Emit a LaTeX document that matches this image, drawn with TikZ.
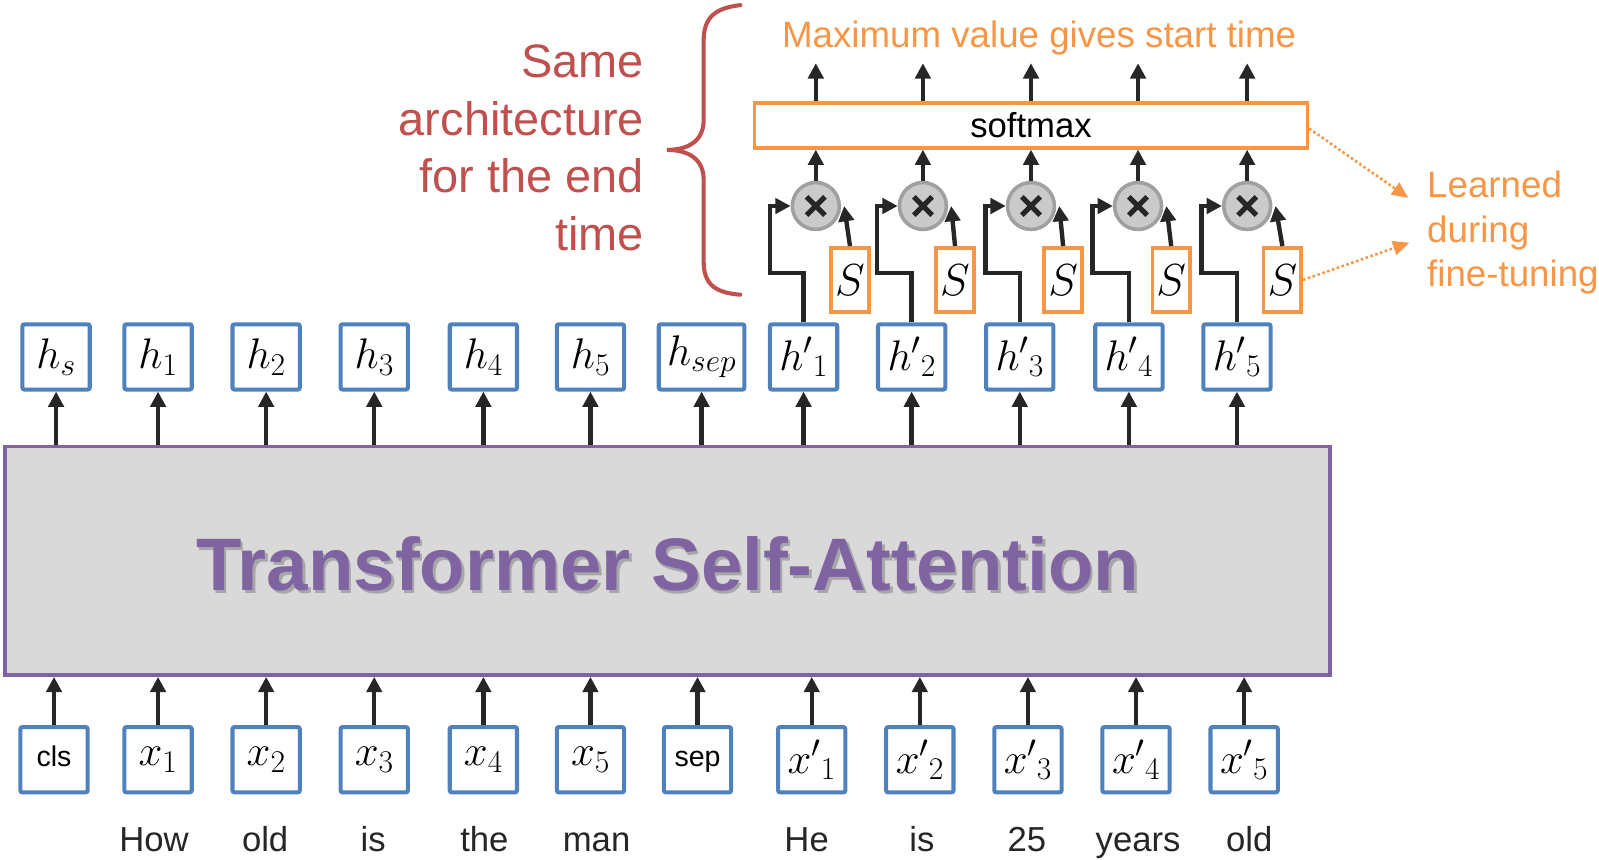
\RequirePackage{fix-cm}
\documentclass[tikz,border=0pt]{standalone}
\usepackage[no-math]{fontspec}
\setmainfont{Liberation Sans}
\usetikzlibrary{arrows.meta}
\DeclareMathSizes{42}{42}{31}{24}
\DeclareMathSizes{44}{44}{33}{24}

\definecolor{boxblue}{HTML}{4F81BD}
\definecolor{accorange}{HTML}{F79646}
\definecolor{accred}{HTML}{C0504D}
\definecolor{accpurple}{HTML}{8064A2}
\definecolor{panelgray}{HTML}{D9D9D9}
\definecolor{inkdark}{HTML}{262626}
\definecolor{multfill}{HTML}{CACACA}
\definecolor{multrim}{HTML}{A0A0A0}

\tikzset{
  tokbox/.style={draw=boxblue, line width=4pt, fill=white, rounded corners=2pt,
    minimum width=66pt, minimum height=64pt, inner sep=0pt,
    font=\fontsize{42}{48}\selectfont},
  smallword/.style={font=\fontsize{28}{32}\selectfont,
    text height=20pt, text depth=6pt},
  sbox/.style={draw=accorange, line width=3.5pt, fill=white,
    minimum width=37pt, minimum height=63pt, inner sep=0pt,
    font=\fontsize{44}{50}\selectfont},
  mult/.style={circle, draw=multrim, fill=multfill, line width=3.5pt,
    minimum size=46pt, inner sep=0pt,
    path picture={\draw[line width=5pt, inkdark]
      (path picture bounding box.center) +(-9,-9) -- +(9,9)
      +(-9,9) -- +(9,-9);}},
  arr/.style={draw=inkdark, line width=4.3pt,
    -{Triangle[length=15pt,width=15pt]}},
  hint/.style={draw=accorange, line width=2.5pt, dash pattern=on 2.5pt off 2.5pt,
    -{Triangle[length=16pt,width=14pt]}},
  word/.style={anchor=base, font=\fontsize{34}{40}\selectfont, text=inkdark},
}

\begin{document}
\begin{tikzpicture}[x=1pt, y=-1pt]
\useasboundingbox (0,0) rectangle (1568,843);

% encoder block
\node[draw=accpurple, fill=panelgray, line width=3.5pt,
      minimum width=1299pt, minimum height=224pt, inner sep=0pt]
      (tr) at (654.5,550) {};
\node[text=black!70, opacity=0.35, font=\fontsize{73}{80}\selectfont\bfseries]
      (trshadow) at (657.5,555.5) {Transformer Self-Attention};
\node[text=accpurple, font=\fontsize{73}{80}\selectfont\bfseries]
      (trtext) at (655,553) {Transformer Self-Attention};

% output states
\node[tokbox] (hs)   at (55,350)  {$h_s$};
\node[tokbox] (h1)   at (155,350) {$h_1$};
\node[tokbox] (h2)   at (261,350) {$h_2$};
\node[tokbox] (h3)   at (367,350) {$h_3$};
\node[tokbox] (h4)   at (474,350) {$h_4$};
\node[tokbox] (h5)   at (579,350) {$h_5$};
\node[tokbox, minimum width=84pt] (hsep) at (688,350) {$h_{sep}$};
\node[tokbox] (hp1)  at (788,350)  {${h'}_1$};
\node[tokbox] (hp2)  at (894,350)  {${h'}_2$};
\node[tokbox] (hp3)  at (1000,350) {${h'}_3$};
\node[tokbox] (hp4)  at (1107,350) {${h'}_4$};
\node[tokbox] (hp5)  at (1213,350) {${h'}_5$};

% input tokens
\node[tokbox, smallword] (cls) at (53,745)  {cls};
\node[tokbox] (x1)   at (155,745) {$x_1$};
\node[tokbox] (x2)   at (261,745) {$x_2$};
\node[tokbox] (x3)   at (367,745) {$x_3$};
\node[tokbox] (x4)   at (474,745) {$x_4$};
\node[tokbox] (x5)   at (579,745) {$x_5$};
\node[tokbox, smallword] (sep) at (684,745) {sep};
\node[tokbox] (xp1)  at (796,745)  {${x'}_1$};
\node[tokbox] (xp2)  at (902,745)  {${x'}_2$};
\node[tokbox] (xp3)  at (1008,745) {${x'}_3$};
\node[tokbox] (xp4)  at (1114,745) {${x'}_4$};
\node[tokbox] (xp5)  at (1220,745) {${x'}_5$};

% words
\node[word] (w1)  at (151,835)  {How};
\node[word] (w2)  at (260,835)  {old};
\node[word] (w3)  at (366,835)  {is};
\node[word] (w4)  at (475,835)  {the};
\node[word] (w5)  at (585,835)  {man};
\node[word] (w6)  at (791,835)  {He};
\node[word] (w7)  at (904,835)  {is};
\node[word] (w8)  at (1007,835) {25};
\node[word] (w9)  at (1116,835) {years};
\node[word] (w10) at (1225,835) {old};

% arrows into and out of the encoder
\foreach \n in {hs,h1,h2,h3,h4,h5,hsep,hp1,hp2,hp3,hp4,hp5}
  \draw[arr] (tr.north -| \n) -- (\n);
\foreach \n in {cls,x1,x2,x3,x4,x5,sep,xp1,xp2,xp3,xp4,xp5}
  \draw[arr] (\n) -- (\n |- tr.south);

% span head
\node[draw=accorange, line width=3.5pt, fill=white, minimum width=542pt,
      minimum height=44pt, inner sep=0pt, font=\fontsize{34}{40}\selectfont]
      (sm) at (1011,123) {softmax};
\node[text=accorange, font=\fontsize{36}{42}\selectfont] (maxlbl) at (1019,37)
      {Maximum value gives start time};

\node[mult] (c1) at (800,202)  {};
\node[mult] (c2) at (905,202)  {};
\node[mult] (c3) at (1011,202) {};
\node[mult] (c4) at (1116,202) {};
\node[mult] (c5) at (1223,202) {};

\node[sbox] (s1) at (833.5,274.5)  {$S$};
\node[sbox] (s2) at (936.5,274.5)  {$S$};
\node[sbox] (s3) at (1042.5,274.5) {$S$};
\node[sbox] (s4) at (1148.5,274.5) {$S$};
\node[sbox] (s5) at (1257.5,274.5) {$S$};

\foreach \i in {1,...,5} {
  \coordinate (o\i) at (c\i |- 0,62);
  \draw[arr] (hp\i.north) -- ++(0,-48) -| ([xshift=-20pt]c\i.west) -- (c\i.west);
  \draw[arr] (s\i.north) -- ([xshift=3pt]c\i.east);
  \draw[arr] (c\i.north) -- (c\i.north |- sm.south);
  \draw[arr] (c\i |- sm.north) -- (o\i);
}

% side notes
\node[anchor=east, align=right, text=accred,
      font=\fontsize{46}{56.5}\selectfont] (same) at (635,145)
      {Same\\architecture\\for the end\\time};
\draw[accred, line width=4pt, line cap=round]
  (726,5) .. controls (700,8) and (690,18) .. (690,40) -- (690,118)
  .. controls (690,138) and (675,147) .. (654,147)
  .. controls (675,147) and (690,156) .. (690,176) -- (690,256)
  .. controls (690,278) and (700,287) .. (726,289);

\node[anchor=west, align=left, text=accorange,
      font=\fontsize{36}{44}\selectfont] (learned) at (1396,228)
      {Learned\\during\\fine-tuning};
\coordinate (l1) at (1381,194);
\coordinate (l2) at (1382,238);
\draw[hint] ([yshift=-3pt]sm.east) -- (l1);
\draw[hint] (s5.east) -- (l2);
\end{tikzpicture}
\end{document}
